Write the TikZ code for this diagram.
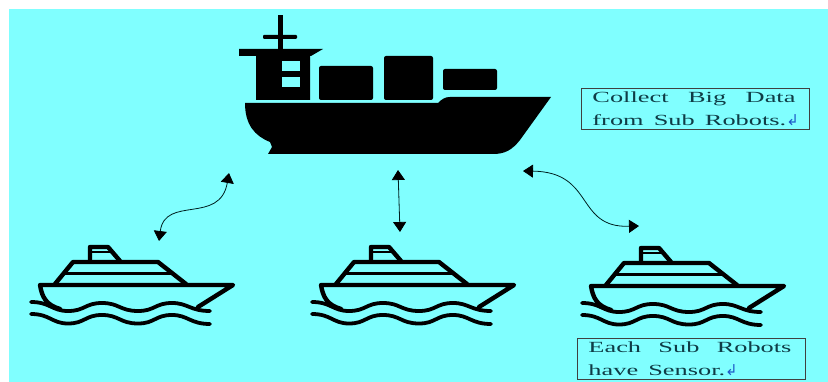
\documentclass[tikz,border=0pt]{standalone}
\usepackage{fontspec}
\newfontfamily\notefont[FakeStretch=1.7]{Liberation Serif}
\newfontfamily\symbfont{DejaVu Sans}
\usetikzlibrary{arrows.meta}
\definecolor{seacyan}{RGB}{128,255,255}
\definecolor{retblue}{RGB}{30,90,200}
\definecolor{noteink}{RGB}{15,60,70}
\newcommand{\retmark}{\smash{\symbfont\fontsize{15}{15}\selectfont\textcolor{retblue}{↲}}}
\newcommand{\spread}[1]{\makebox[203pt][s]{#1}}
\begin{document}
\begin{tikzpicture}[x=1pt,y=-1pt,>={Triangle[length=10pt,width=13pt,color=black]},
  shipline/.style={line width=4.4pt,line join=round,line cap=round},
  wave/.style={line width=3.8pt,line cap=round},
  link/.style={<->,line width=0.8pt,black!75!teal},
  note/.style={draw=black!75,line width=0.9pt,minimum height=41pt,inner ysep=0pt,inner xsep=11pt,
    anchor=north west,font=\notefont\fontsize{15.5}{23}\selectfont,text=noteink,text width=206pt,align=left},
  subship/.pic={
    \draw[shipline] (90,261) -- (90,247) -- (108,247) -- (120,261);
    \draw[line width=2pt] (92,252) -- (110,252);
    \draw[shipline] (55,284) -- (73,262) -- (158,262) -- (186,284);
    \draw[line width=3pt] (63,274) -- (172,274);
    \draw[shipline] (60,309) .. controls (46,305) and (42,297) .. (40,285) -- (233,285) -- (198,307);
    \draw[wave] (31,302) .. controls (50,302) and (52,311) .. (68,311)
      .. controls (85,311) and (85,303) .. (102,303)
      .. controls (119,303) and (120,311) .. (138,311)
      .. controls (155,311) and (155,303) .. (172,303)
      .. controls (188,303) and (190,311) .. (210,311);
    \draw[wave] (31,314) .. controls (50,314) and (52,323.5) .. (68,323.5)
      .. controls (85,323.5) and (85,315) .. (102,315)
      .. controls (119,315) and (120,323.5) .. (138,323.5)
      .. controls (155,323.5) and (155,315) .. (172,315)
      .. controls (188,315) and (190,324) .. (210,324);
  }]
  \useasboundingbox (0,0) rectangle (828,382);
  \fill[seacyan] (9,9) rectangle (828,382);

  % mother ship
  \fill (277.5,15) rectangle (282.5,50);
  \fill[rounded corners=1pt] (263,35) rectangle (297,39);
  \fill (239,49) -- (323,49) -- (311,56) -- (310,56) -- (310,100) -- (256,100) -- (256,56) -- (239,56) -- cycle;
  \fill[seacyan] (282,61) rectangle (300,71);
  \fill[seacyan] (282,77) rectangle (300,87);
  \fill[rounded corners=2pt] (319,66) rectangle (373,100);
  \fill[rounded corners=2pt] (384,56) rectangle (433,100);
  \fill[rounded corners=2pt] (443,69) rectangle (497,90);
  \fill (245,103) -- (438,103) .. controls (442,99) and (445,97) .. (450,97) -- (551,97) -- (520,140)
    .. controls (512,150) and (505,154) .. (493,154) -- (268,154) -- (272,147) -- (270,142)
    .. controls (255,136) and (245,125) .. (245,103) -- cycle;

  % sub ships
  \pic (shipa) at (0,0) {subship};
  \pic (shipb) at (281,0) {subship};
  \pic (shipc) at (551,1) {subship};

  % notes
  \node[note] (collect) at (581,88) {\spread{Collect\hfill Big\hfill Data}\\\mbox{from\hspace{5pt} Sub\hspace{5pt} Robots.\retmark}};
  \node[note] (sensor) at (577,338) {\spread{Each\hfill Sub\hfill Robots}\\\mbox{have\hspace{5pt} Sensor.\retmark}};

  % links
  \coordinate (linkat) at (229,173);
  \coordinate (linkab) at (159,241);
  \coordinate (linkbt) at (398,170);
  \coordinate (linkbb) at (400,232);
  \coordinate (linkct) at (523,171);
  \coordinate (linkcb) at (639,226);
  \draw[link] (linkab) .. controls (165,195) and (220,225) .. (linkat);
  \draw[link] (linkbt) -- (linkbb);
  \draw[link] (linkct) .. controls (595,172) and (575,228) .. (linkcb);
\end{tikzpicture}
\end{document}
